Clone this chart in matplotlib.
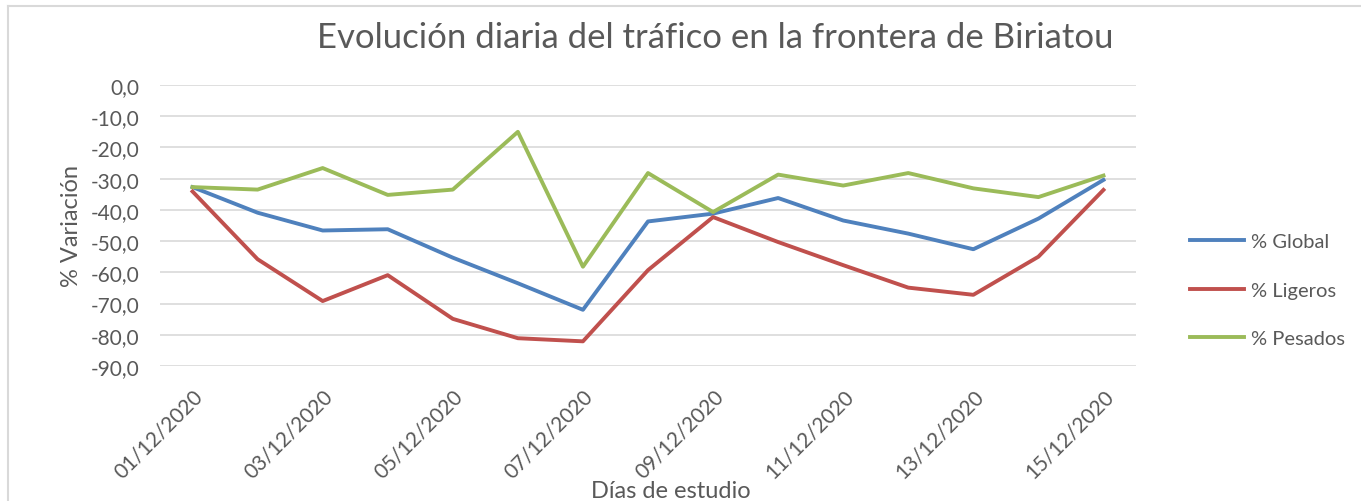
import matplotlib.pyplot as plt
from matplotlib.lines import Line2D

# Days of the study (December 2020)
dias = ["01/12/2020", "02/12/2020", "03/12/2020", "04/12/2020", "05/12/2020",
        "06/12/2020", "07/12/2020", "08/12/2020", "09/12/2020", "10/12/2020",
        "11/12/2020", "12/12/2020", "13/12/2020", "14/12/2020", "15/12/2020"]

# % variation
global_pct = [-32.7, -40.9, -46.6, -46.2, -55.3, -63.5, -72.0, -43.7,
              -41.2, -36.2, -43.4, -47.6, -52.6, -42.8, -30.4]
ligeros_pct = [-34.1, -55.8, -69.2, -60.9, -74.9, -81.1, -82.1, -59.3,
               -42.3, -50.3, -57.7, -64.9, -67.2, -55.0, -33.6]
pesados_pct = [-32.7, -33.5, -26.6, -35.2, -33.5, -15.0, -58.2, -28.2,
               -40.7, -28.7, -32.2, -28.2, -33.1, -35.9, -29.0]

yticks = [0, -10, -20, -30, -40, -50, -60, -70, -80, -90]

plt.rcParams["font.family"] = ["Lato", "DejaVu Sans"]
text_color = "#595959"

fig = plt.figure(figsize=(13.61, 5.02), dpi=100)
ax = fig.add_axes([160 / 1361, 1 - 367 / 502, (1136 - 160) / 1361, (367 - 86) / 502])

x = list(range(len(dias)))
ax.plot(x, global_pct, color="#4F81BD", lw=2.8, label="% Global")
ax.plot(x, ligeros_pct, color="#C0504D", lw=2.8, label="% Ligeros")
ax.plot(x, pesados_pct, color="#9BBB59", lw=2.8, label="% Pesados")

ax.set_xlim(-0.5, len(dias) - 0.5)
ax.set_ylim(-90, 0)
ax.set_yticks(yticks)
ax.set_yticklabels([f"{v:.1f}".replace(".", ",") for v in yticks])
ax.yaxis.grid(True, color="#D9D9D9", lw=1.2)
ax.set_axisbelow(True)
for s in ax.spines.values():
    s.set_visible(False)
ax.tick_params(axis="y", length=0, pad=15, labelsize=15, labelcolor=text_color)

ax.set_xticks(x[::2])
ax.set_xticklabels(dias[::2], rotation=45, ha="right", rotation_mode="anchor")
ax.tick_params(axis="x", length=0, pad=14, labelsize=15, labelcolor=text_color)

ax.set_ylabel("% Variación", fontsize=17, color=text_color, labelpad=6)
fig.text(671 / 1361, 1 - 492 / 502, "Días de estudio", fontsize=17,
         color=text_color, ha="center", va="center")
fig.text(715 / 1361, 1 - 38 / 502, "Evolución diaria del tráfico en la frontera de Biriatou",
         fontsize=25, color=text_color, ha="center", va="center")

ax.legend(loc="center left", bbox_to_anchor=(1190 / 1361, 1 - 291 / 502),
          bbox_transform=fig.transFigure, frameon=False, fontsize=14.5,
          labelcolor=text_color, handlelength=2.7, handletextpad=0.35,
          labelspacing=1.55, borderpad=0, borderaxespad=0)

# chart area border
fig.add_artist(Line2D([8 / 1361, 8 / 1361], [0, 1 - 7 / 502], color="#D9D9D9", lw=1.5,
                      transform=fig.transFigure))
fig.add_artist(Line2D([8 / 1361, 1], [1 - 7 / 502, 1 - 7 / 502], color="#D9D9D9", lw=1.5,
                      transform=fig.transFigure))

plt.savefig("out.png")
